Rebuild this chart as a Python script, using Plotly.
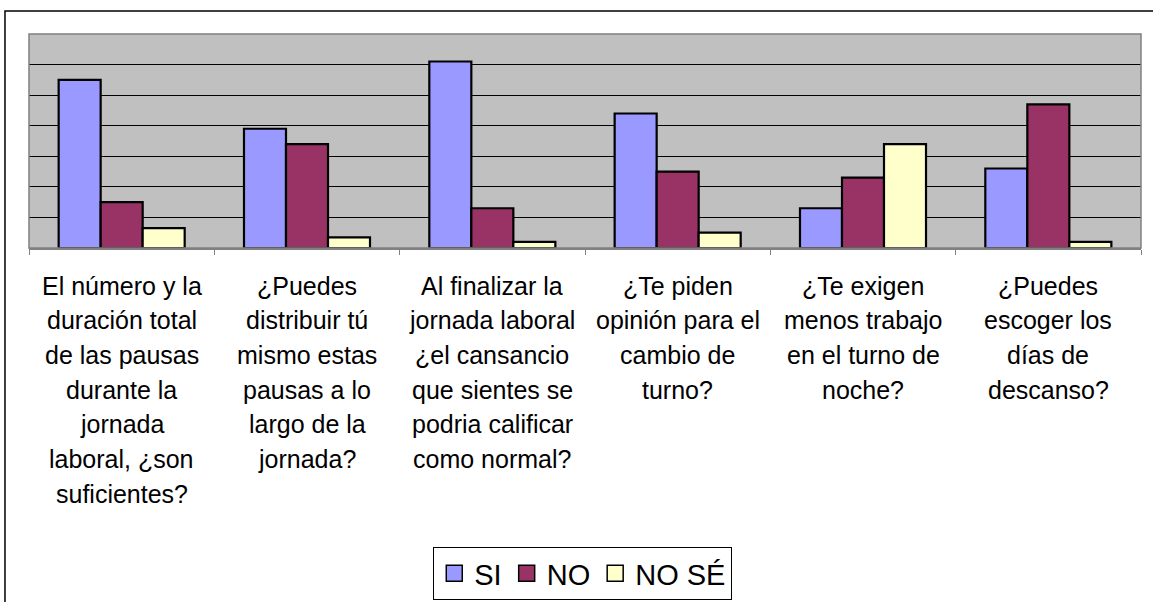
import plotly.graph_objects as go

# category labels, one list of lines per group
label_lines = [
    ["El número y la", "duración total", "de las pausas", "durante la",
     "jornada", "laboral, ¿son", "suficientes?"],
    ["¿Puedes", "distribuir tú", "mismo estas", "pausas a lo", "largo de la",
     "jornada?"],
    ["Al finalizar la", "jornada laboral", "¿el cansancio", "que sientes se",
     "podria calificar", "como normal?"],
    ["¿Te piden", "opinión para el", "cambio de", "turno?"],
    ["¿Te exigen", "menos trabajo", "en el turno de", "noche?"],
    ["¿Puedes", "escoger los", "días de", "descanso?"],
]
cat_ids = ["q1", "q2", "q3", "q4", "q5", "q6"]

si_vals = [55, 39, 61, 44, 13, 26]
no_vals = [15, 34, 13, 25, 23, 47]
nose_vals = [6.5, 3.5, 2, 5, 34, 2]

series = [
    ("SI", si_vals, "#9999FF"),
    ("NO", no_vals, "#993366"),
    ("NO SÉ", nose_vals, "#FFFFCC"),
]

FONT = "Arial, Liberation Sans, sans-serif"
PLOT_H = 214  # plot area height in px, used to place the label lines

fig = go.Figure()
for name, vals, color in series:
    fig.add_trace(go.Bar(
        x=cat_ids, y=vals, name=name,
        marker=dict(color=color, line=dict(color="#000000", width=2.2)),
        showlegend=False,
        hovertemplate=f"{name}: %{{y}}<extra></extra>",
    ))
# legend entries drawn as square markers
for name, vals, color in series:
    fig.add_trace(go.Scatter(
        x=[None], y=[None], mode="markers", name=name,
        marker=dict(symbol="square", size=16, color=color,
                    line=dict(color="#000000", width=1.5)),
    ))

# category labels, line by line (Excel-like line spacing)
for cid, lines in zip(cat_ids, label_lines):
    for i, line in enumerate(lines):
        fig.add_annotation(
            x=cid, xref="x", yref="paper",
            y=-(37.5 + 34.7 * i) / PLOT_H,
            text=line, showarrow=False,
            xanchor="center", yanchor="middle",
            font=dict(size=25, family=FONT, color="#000000"),
        )

# plot area box and outer chart border
fig.add_shape(type="rect", xref="paper", yref="paper", x0=0, x1=1, y0=0, y1=1,
              line=dict(color="#808080", width=1.5), layer="above")
fig.add_shape(type="rect", xref="paper", yref="paper",
              x0=-0.0216, x1=1.03, y0=-1.8, y1=1.1075,
              line=dict(color="#000000", width=1.5))

fig.update_layout(
    width=1153, height=602,
    paper_bgcolor="#ffffff", plot_bgcolor="#C0C0C0",
    margin=dict(l=29, r=12, t=34, b=354),
    barmode="group", bargap=0.32, bargroupgap=0,
    font=dict(family=FONT, color="#000000", size=24),
    legend=dict(orientation="h", x=0.498, xanchor="center",
                yref="container", y=0.0914, yanchor="top",
                bgcolor="#ffffff", bordercolor="#000000", borderwidth=1,
                font=dict(size=29), itemsizing="trace"),
)
fig.update_xaxes(
    type="category", tickvals=cat_ids, showticklabels=False,
    tickson="boundaries", ticks="outside", ticklen=5, tickcolor="#808080",
    showline=True, linecolor="#808080", linewidth=1.5, showgrid=False,
)
fig.update_yaxes(
    range=[0, 70], dtick=10, showticklabels=False,
    showgrid=True, gridcolor="#000000", gridwidth=1,
    zeroline=False, showline=False,
)

fig.write_html("out.html", config={"displayModeBar": False},
               post_script="document.body.style.margin = '0';")
